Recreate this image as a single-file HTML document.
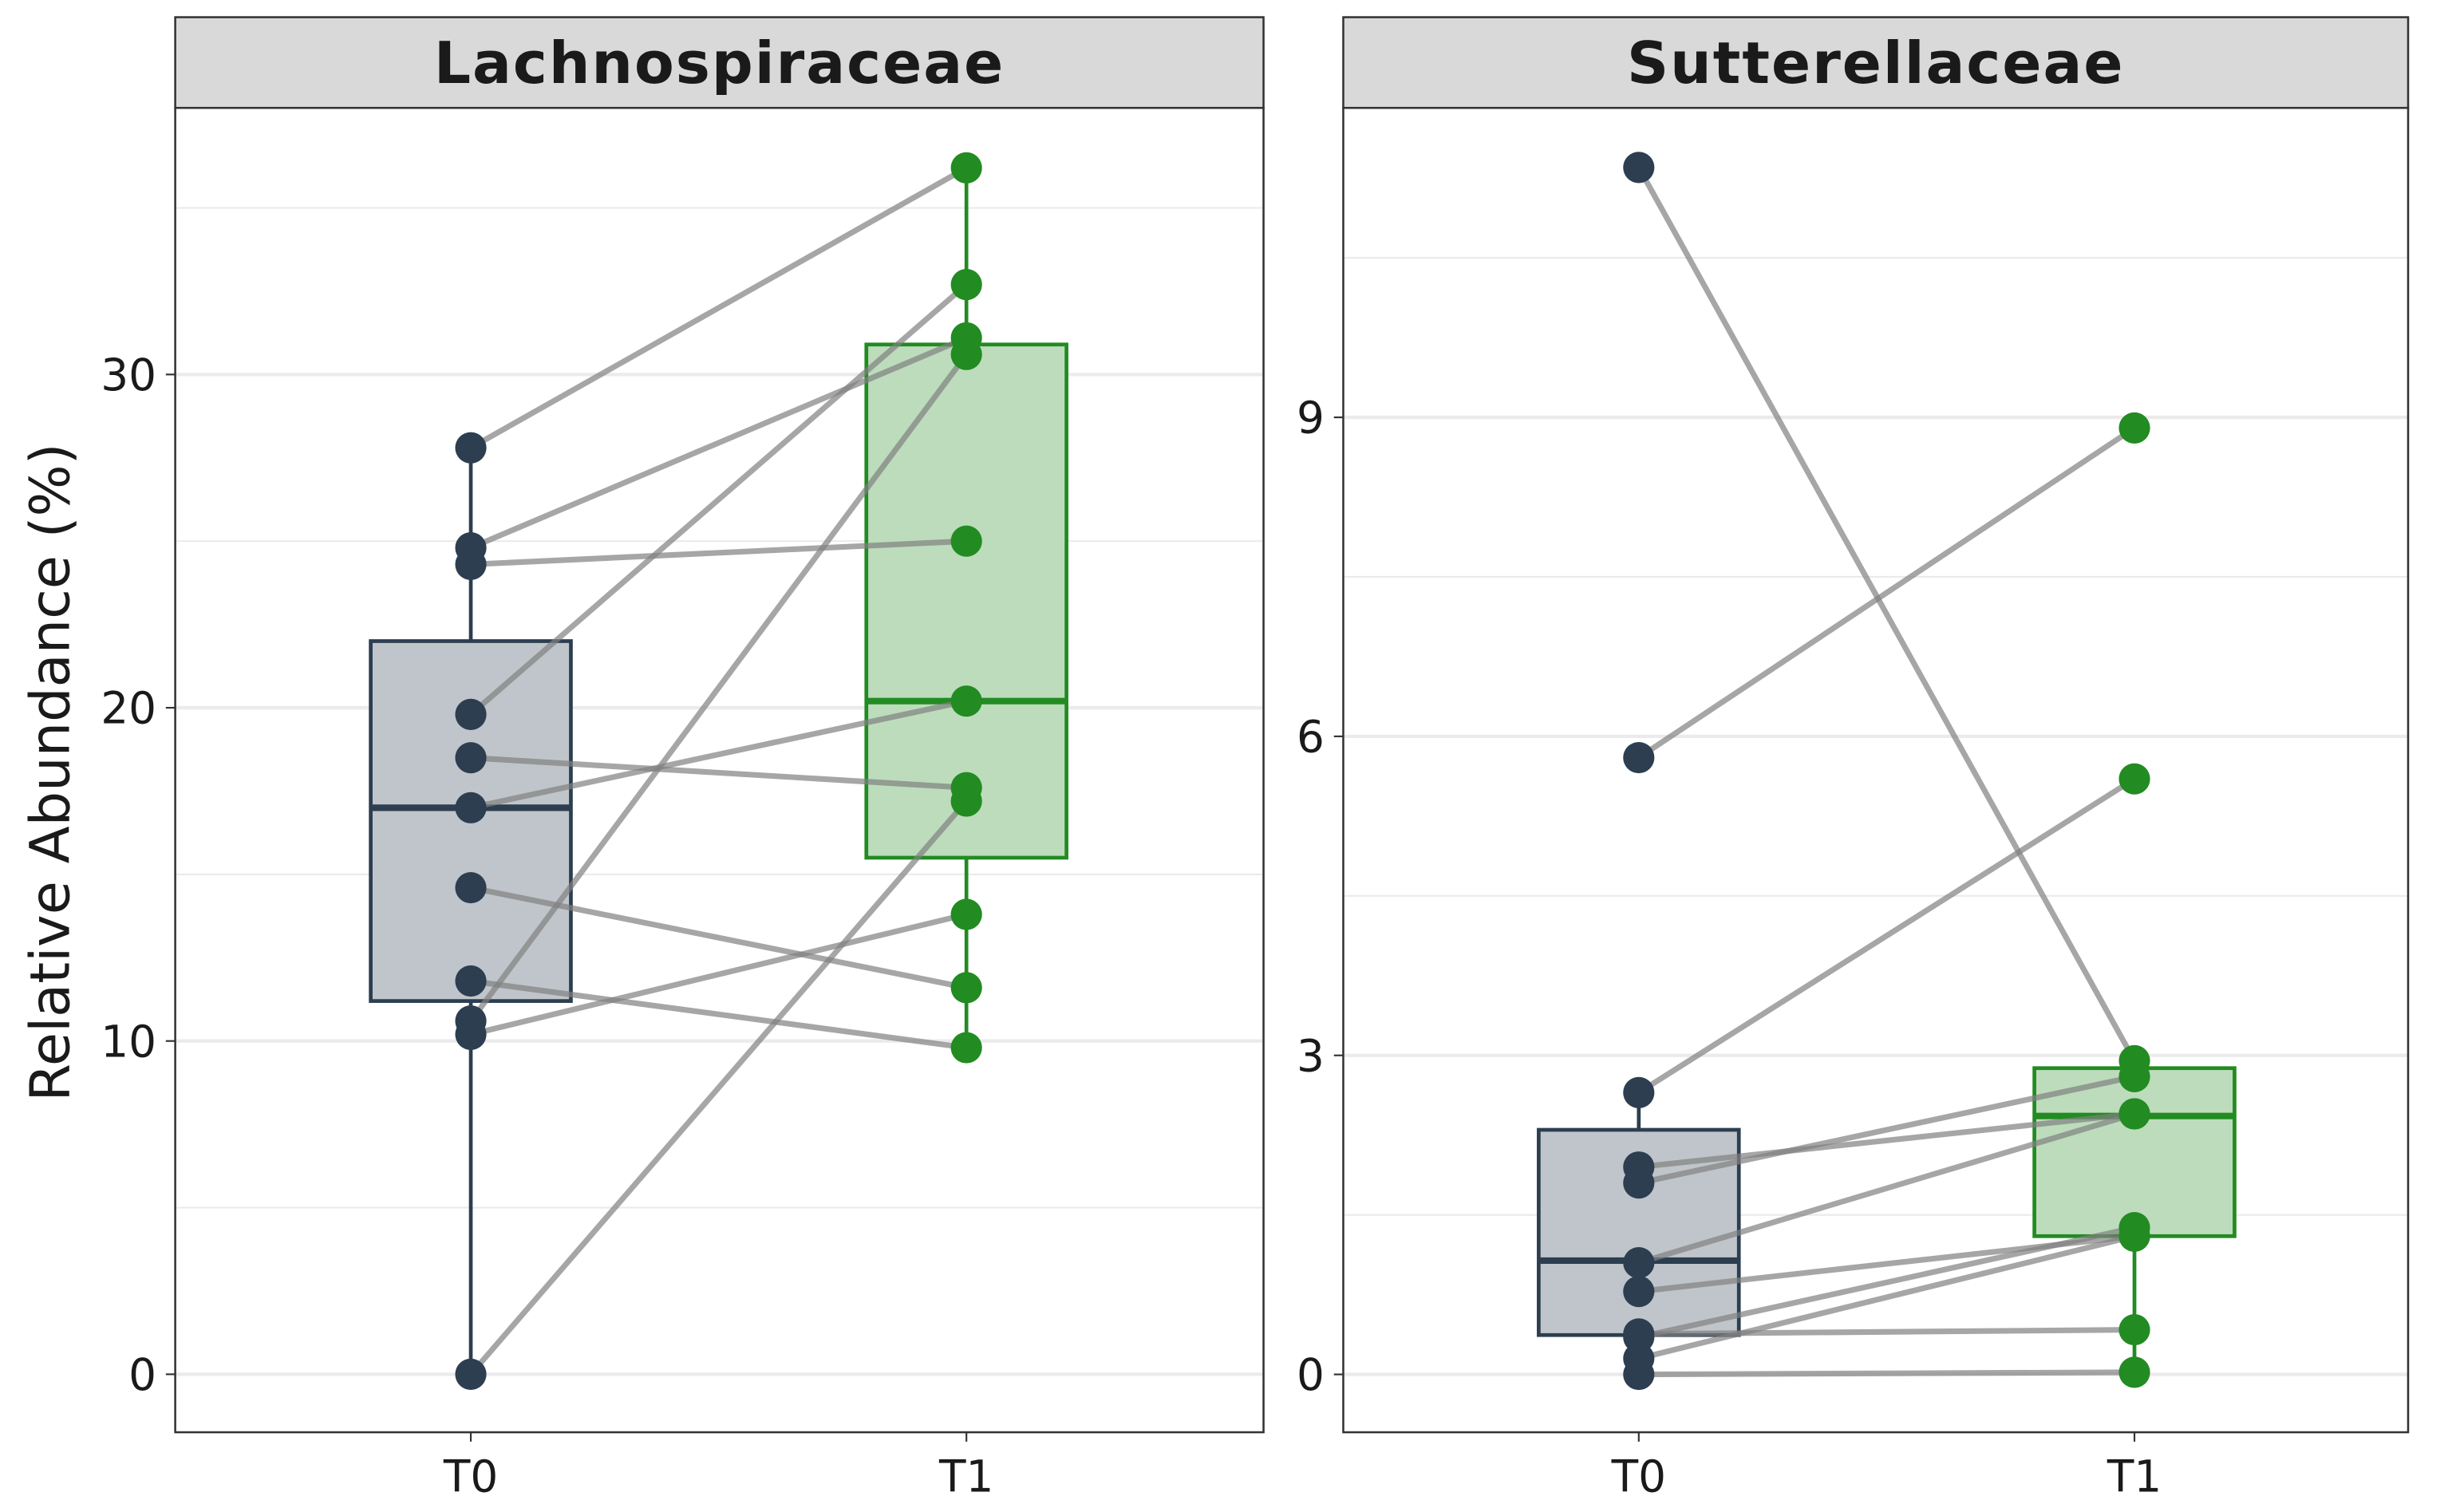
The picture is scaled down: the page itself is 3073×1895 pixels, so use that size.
<!DOCTYPE html>
<html><head><meta charset="utf-8"><style>
html,body{margin:0;padding:0;background:#fff}
svg{display:block}
text{font-family:"DejaVu Sans","Liberation Sans",sans-serif}
</style></head><body>
<svg id="chart" width="3073" height="1895" viewBox="0 0 1568 967" xmlns="http://www.w3.org/2000/svg"></svg>
<script>
const categories = ["T0","T1"];
const panelTitles = ["Lachnospiraceae","Sutterellaceae"];
// Lachnospiraceae paired values
const lachT0 = [27.8,24.8,24.3,19.8,18.5,17.0,14.6,11.8,10.6,10.2,0.0];
const lachT1 = [36.2,31.1,25.0,32.7,17.6,20.2,11.6,9.8,30.6,13.8,17.2];
// Sutterellaceae paired values
const suttT0 = [11.35,5.8,2.65,1.95,1.8,1.05,0.78,0.35,0.38,0.15,0.0];
const suttT1 = [2.95,8.9,5.6,2.45,2.8,2.45,1.3,1.38,0.42,1.3,0.02];
// box stats [lowWhisker, q1, median, q3, highWhisker]
const lachBoxT0 = [0.0,11.2,17.0,22.0,27.8];
const lachBoxT1 = [9.8,15.5,20.2,30.9,36.2];
const suttBoxT0 = [0.0,0.37,1.07,2.3,2.65];
const suttBoxT1 = [0.0,1.3,2.43,2.88,2.98];
const lachTicks = [0,10,20,30];
const lachMinor = [5,15,25,35];
const suttTicks = [0,3,6,9];
const suttMinor = [1.5,4.5,7.5,10.5];

const NS="http://www.w3.org/2000/svg";
const svg=document.getElementById('chart');
function mk(tag,attrs,parent){const e=document.createElementNS(NS,tag);for(const k in attrs)e.setAttribute(k,attrs[k]);(parent||svg).appendChild(e);return e;}

const panels=[
 {x0:112,x1:808,fr:[0.2716,0.727],domain:[-1.74,38.0],t0:lachT0,t1:lachT1,b0:lachBoxT0,b1:lachBoxT1,ticks:lachTicks,minor:lachMinor,title:panelTitles[0]},
 {x0:859,x1:1540,fr:[0.2775,0.743],domain:[-0.544,11.91],t0:suttT0,t1:suttT1,b0:suttBoxT0,b1:suttBoxT1,ticks:suttTicks,minor:suttMinor,title:panelTitles[1]}
];
const plotTop=69,plotBottom=916,stripTop=11;
const dark="#2c3e50",green="#228b22";

panels.forEach((p,pi)=>{
  const g=mk('g',{});
  
  
  const y=v=>plotBottom-(v-p.domain[0])/(p.domain[1]-p.domain[0])*(plotBottom-plotTop);
  const w=p.x1-p.x0;
  const xc=i=>p.x0+w*p.fr[i];
  p.minor.forEach(v=>{const l=mk('line',{x1:p.x0,x2:p.x1,y1:y(v),y2:y(v),stroke:'#ebebeb','stroke-width':1.1},g);
    });
  p.ticks.forEach(v=>{const l=mk('line',{x1:p.x0,x2:p.x1,y1:y(v),y2:y(v),stroke:'#ebebeb','stroke-width':2.2},g);
    
    const tk=mk('line',{x1:p.x0-6,x2:p.x0,y1:y(v),y2:y(v),stroke:'#333','stroke-width':1.1},g);
    
    const t=mk('text',{x:p.x0-12,y:y(v)+10,'text-anchor':'end','font-size':28,fill:'#1a1a1a'},g);t.textContent=v;
    });
  const bw=64;
  [[p.b0,dark,'rgba(44,62,80,0.3)'],[p.b1,green,'rgba(34,139,34,0.3)']].forEach((bx,i)=>{
    const [b,col,fill]=bx;const cx=xc(i);
    const wl=mk('line',{x1:cx,x2:cx,y1:y(b[0]),y2:y(b[4]),stroke:col,'stroke-width':2.4},g);
    
    mk('rect',{x:cx-bw,y:y(b[3]),width:2*bw,height:y(b[1])-y(b[3]),fill:'#fff',stroke:'none'},g);
    const r2=mk('rect',{x:cx-bw,y:y(b[3]),width:2*bw,height:y(b[1])-y(b[3]),fill:fill,stroke:col,'stroke-width':2.4},g);
    
    const m=mk('line',{x1:cx-bw,x2:cx+bw,y1:y(b[2]),y2:y(b[2]),stroke:col,'stroke-width':4.2},g);
    
  });
  p.t0.forEach((v,k)=>{const l=mk('line',{x1:xc(0),y1:y(v),x2:xc(1),y2:y(p.t1[k]),stroke:'#808080','stroke-opacity':0.7,'stroke-width':3.6},g);
    });
  p.t0.forEach(v=>{const c=mk('circle',{cx:xc(0),cy:y(v),r:10,fill:dark},g);
    });
  p.t1.forEach(v=>{const c=mk('circle',{cx:xc(1),cy:y(v),r:10,fill:green},g);
    });
  const f=mk('rect',{x:p.x0,y:plotTop,width:w,height:plotBottom-plotTop,fill:'none',stroke:'#333','stroke-width':1.3},g);
  
  const s=mk('rect',{x:p.x0,y:stripTop,width:w,height:plotTop-stripTop,fill:'#d9d9d9',stroke:'#333','stroke-width':1.3},g);
  
  const st=mk('text',{x:p.x0+w/2,y:53,'text-anchor':'middle','font-size':37,'font-weight':'bold','letter-spacing':1,fill:'#1a1a1a'},g);st.textContent=p.title;
  
  categories.forEach((c,i)=>{
    const tk=mk('line',{x1:xc(i),x2:xc(i),y1:plotBottom,y2:plotBottom+6,stroke:'#333','stroke-width':1.1},g);
    
    const t=mk('text',{x:xc(i),y:plotBottom+38,'text-anchor':'middle','font-size':28,fill:'#1a1a1a'},g);t.textContent=c;
    
  });
});
const yt=mk('text',{x:0,y:0,transform:'translate(44,494) rotate(-90)','text-anchor':'middle','font-size':35,fill:'#1a1a1a'});
yt.textContent='Relative Abundance (%)';


</script>
</body></html>
